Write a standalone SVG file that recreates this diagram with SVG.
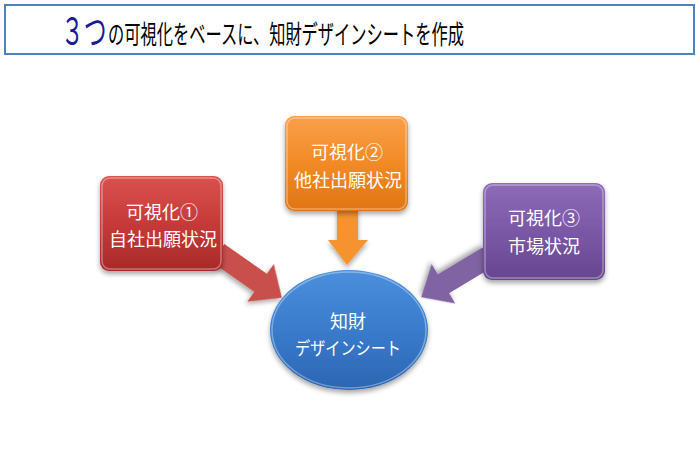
<svg xmlns="http://www.w3.org/2000/svg" width="700" height="454" viewBox="0 0 700 454">
<defs>
<linearGradient id="gRed" x1="0" y1="0" x2="0" y2="1"><stop offset="0" stop-color="#d9524f"/><stop offset="0.5" stop-color="#c63a38"/><stop offset="1" stop-color="#a82a2a"/></linearGradient>
<linearGradient id="gOrange" x1="0" y1="0" x2="0" y2="1"><stop offset="0" stop-color="#f9a04a"/><stop offset="0.5" stop-color="#f28a26"/><stop offset="1" stop-color="#df7614"/></linearGradient>
<linearGradient id="gPurple" x1="0" y1="0" x2="0" y2="1"><stop offset="0" stop-color="#8d6bb7"/><stop offset="0.5" stop-color="#7a58a6"/><stop offset="1" stop-color="#674690"/></linearGradient>
<linearGradient id="gBlue" x1="0" y1="0" x2="0" y2="1"><stop offset="0" stop-color="#4a8fdc"/><stop offset="0.5" stop-color="#3a7bcc"/><stop offset="1" stop-color="#2c66b2"/></linearGradient>
<filter id="sh" x="-20%" y="-20%" width="140%" height="150%"><feDropShadow dx="0" dy="3" stdDeviation="2.5" flood-color="#000" flood-opacity="0.35"/></filter>
</defs>
<style>
.t{font-family:"Noto Sans CJK JP","Noto Sans CJK SC",sans-serif;fill:#ffffff;font-size:18px;text-anchor:middle}
.hl{fill:none;stroke:#ffffff;stroke-opacity:0.35;stroke-width:1.5}
.title{font-family:"Noto Sans CJK JP","Noto Sans CJK SC",sans-serif}
</style>
<g id="title">
<rect x="5" y="5" width="689" height="49" fill="#ffffff" stroke="#4f81bd" stroke-width="2"/>
<text class="title" transform="translate(61,45) scale(0.6,1)" font-size="38" fill="#1a1a96">３つ</text>
<text class="title" transform="translate(108,44) scale(0.625,1)" font-size="26" fill="#000000">の可視化をベースに、知財デザインシートを作成</text>
</g>
<g id="connectors">
<polygon transform="translate(218,253) rotate(35)" points="0,-11 52,-11 52,-23 78,0 52,23 52,11 0,11" fill="#c9504e" filter="url(#sh)"/>
<polygon points="337,208 358,208 358,240 368,240 347,265 328,240 337,240" fill="#f7932f" filter="url(#sh)"/>
<polygon transform="translate(488,257) rotate(149)" points="0,-11 52,-11 52,-23 78,0 52,23 52,11 0,11" fill="#8064a2" filter="url(#sh)"/>
</g>
<g id="node-red">
<rect x="100" y="176" width="123" height="95" rx="9" fill="url(#gRed)" filter="url(#sh)"/>
<rect x="102" y="178" width="119" height="91" rx="8" class="hl"/>
<text class="t" x="162" y="219">可視化①</text>
<text class="t" x="163" y="246">自社出願状況</text>
</g>
<g id="node-orange">
<rect x="285" y="116" width="123" height="95" rx="9" fill="url(#gOrange)" filter="url(#sh)"/>
<rect x="287" y="118" width="119" height="91" rx="8" class="hl"/>
<text class="t" x="347" y="159">可視化②</text>
<text class="t" x="348" y="187">他社出願状況</text>
</g>
<g id="node-purple">
<rect x="483" y="183" width="122" height="97" rx="9" fill="url(#gPurple)" filter="url(#sh)"/>
<rect x="485" y="185" width="118" height="93" rx="8" class="hl"/>
<text class="t" x="544" y="225">可視化③</text>
<text class="t" x="544" y="253">市場状況</text>
</g>
<g id="node-blue">
<ellipse cx="349" cy="330" rx="79" ry="60" fill="url(#gBlue)" filter="url(#sh)"/>
<ellipse cx="349" cy="330" rx="77" ry="58" class="hl"/>
<text class="t" x="348" y="328">知財</text>
<text class="t" x="348" y="355" textLength="106" lengthAdjust="spacingAndGlyphs">デザインシート</text>
</g>
</svg>
